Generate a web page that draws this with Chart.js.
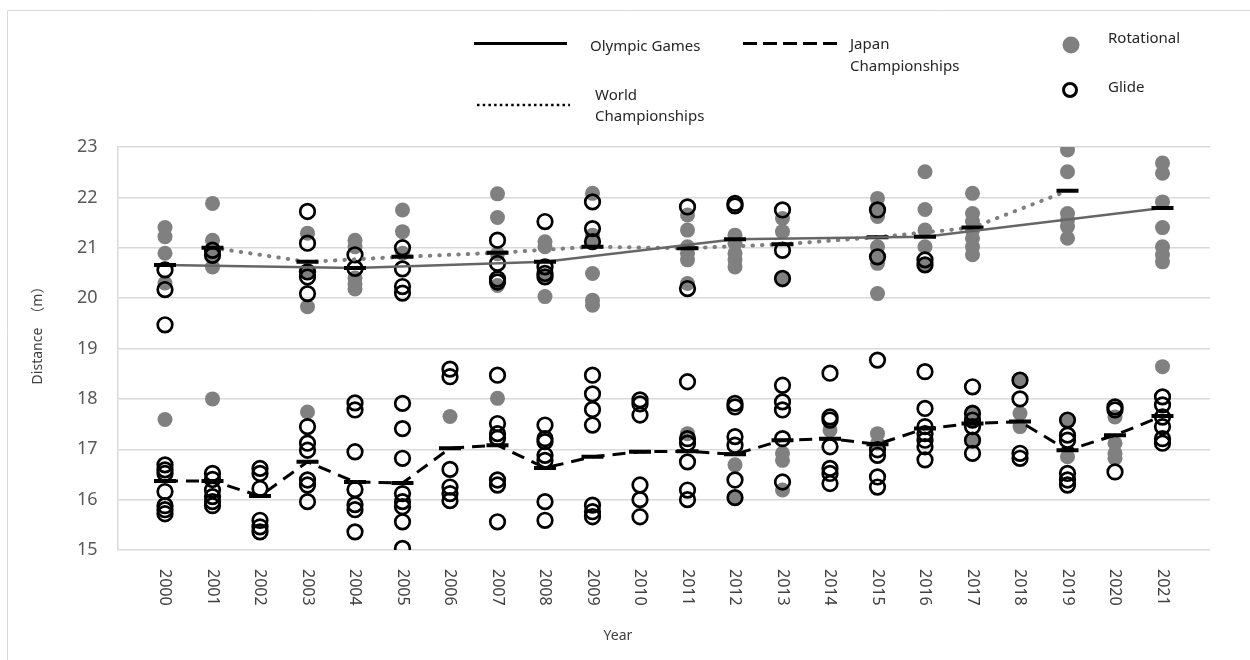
<!DOCTYPE html>
<html>
<head>
<meta charset="utf-8">
<script src="https://cdn.jsdelivr.net/npm/chart.js@4.4.1/dist/chart.umd.min.js"></script>
<style>
  html, body { margin: 0; padding: 0; background: #fff; }
  #wrap { width: 1250px; height: 660px; }
</style>
</head>
<body>
<div id="wrap"><canvas id="distChart" width="1250" height="660"></canvas></div>
<script>
// years on the x axis
const years = [2000, 2001, 2002, 2003, 2004, 2005, 2006, 2007, 2008, 2009, 2010,
               2011, 2012, 2013, 2014, 2015, 2016, 2017, 2018, 2019, 2020, 2021];
const yTicks = [15, 16, 17, 18, 19, 20, 21, 22, 23];

// event averages (dash markers + connecting lines)
const olympicYears = [2000, 2004, 2008, 2012, 2016, 2021];
const olympicAvg   = [20.66, 20.60, 20.72, 21.17, 21.22, 21.79];
const worldYears = [2001, 2003, 2005, 2007, 2009, 2011, 2013, 2015, 2017, 2019];
const worldAvg   = [21.00, 20.72, 20.82, 20.90, 21.02, 20.99, 21.07, 21.21, 21.40, 22.13];
const japanAvg = [16.37, 16.37, 16.07, 16.75, 16.35, 16.33, 17.02, 17.08, 16.63, 16.85, 16.95,
                  16.96, 16.90, 17.18, 17.21, 17.10, 17.41, 17.51, 17.55, 16.98, 17.28, 17.66];

// individual throws, one list per year (same order as years)
const rotational = [
  [21.40, 21.22, 20.89, 20.30, 17.59],
  [21.88, 21.15, 20.86, 20.62, 18.00],
  [],
  [21.29, 20.52, 19.83, 17.74],
  [21.15, 21.02, 20.40, 20.28, 20.18],
  [21.75, 21.32, 20.89],
  [17.65],
  [22.07, 21.60, 20.88, 20.25, 18.01],
  [21.12, 21.02, 20.42, 20.03],
  [22.08, 21.25, 21.15, 20.49, 19.96, 19.86],
  [],
  [21.65, 21.35, 21.02, 20.89, 20.76, 20.29, 17.31],
  [21.25, 21.09, 20.89, 20.76, 20.62, 16.69, 16.04],
  [21.58, 21.32, 20.36, 16.92, 16.78, 16.19],
  [17.38],
  [21.98, 21.81, 21.62, 21.02, 20.82, 20.69, 20.09, 17.31, 17.12],
  [22.51, 21.76, 21.35, 21.02, 20.66],
  [22.08, 21.68, 21.52, 21.35, 21.19, 21.02, 20.86, 17.74, 17.58, 17.18],
  [18.34, 17.71, 17.45],
  [22.94, 22.51, 21.68, 21.55, 21.42, 21.19, 17.58, 16.85],
  [17.64, 17.12, 16.92, 16.82],
  [22.68, 22.48, 21.91, 21.40, 21.02, 20.86, 20.72, 18.64]
];
const glide = [
  [20.56, 20.17, 19.47, 16.69, 16.59, 16.52, 16.16, 15.88, 15.80, 15.72],
  [20.95, 20.85, 16.52, 16.40, 16.19, 16.06, 15.96, 15.88],
  [16.62, 16.52, 16.22, 15.59, 15.46, 15.36],
  [21.72, 21.09, 20.52, 20.42, 20.09, 17.45, 17.12, 16.98, 16.39, 16.29, 15.96],
  [20.86, 20.59, 17.92, 17.78, 16.95, 16.20, 15.90, 15.80, 15.36],
  [21.00, 20.58, 20.23, 20.10, 17.91, 17.41, 16.82, 16.12, 15.96, 15.86, 15.56, 15.03],
  [18.59, 18.44, 16.60, 16.25, 16.12, 15.98],
  [21.15, 20.69, 20.38, 20.32, 18.47, 17.51, 17.31, 17.22, 16.39, 16.29, 15.56],
  [21.52, 20.62, 20.49, 20.42, 17.48, 17.21, 17.15, 16.88, 16.78, 15.96, 15.59],
  [21.91, 21.38, 21.12, 18.47, 18.10, 17.79, 17.48, 15.89, 15.76, 15.66],
  [17.98, 17.90, 17.68, 16.29, 16.00, 15.66],
  [21.81, 20.19, 18.34, 17.21, 17.12, 16.75, 16.19, 16.00],
  [21.88, 21.83, 17.91, 17.84, 17.25, 17.08, 16.39, 16.04],
  [21.75, 20.95, 20.39, 18.27, 17.94, 17.78, 17.21, 16.35],
  [18.51, 17.64, 17.58, 17.05, 16.62, 16.52, 16.32],
  [21.75, 20.82, 18.77, 16.99, 16.88, 16.45, 16.25],
  [20.76, 20.66, 18.54, 17.81, 17.45, 17.31, 17.18, 17.05, 16.79],
  [18.24, 17.71, 17.58, 17.45, 17.18, 16.92],
  [18.37, 18.00, 16.92, 16.82],
  [17.58, 17.28, 17.18, 16.52, 16.39, 16.29],
  [17.84, 17.78, 16.55],
  [18.04, 17.88, 17.64, 17.45, 17.21, 17.12]
];

const FONT = '"Noto Sans", "Noto Sans CJK JP", sans-serif';

function toPoints(xs, ys) {
  return xs.map((x, i) => ({ x: x, y: ys[i] }));
}
function throwPoints(lists) {
  const pts = [];
  lists.forEach((vals, i) => vals.forEach(v => pts.push({ x: years[i], y: v })));
  return pts;
}

// legend, rotated year labels, axis titles and the outer frame
const extras = {
  id: 'extras',
  afterDraw(chart) {
    const c = chart.ctx;
    const xs = chart.scales.x;
    c.save();

    c.strokeStyle = '#d9d9d9';
    c.lineWidth = 1;
    c.beginPath();
    c.moveTo(7.5, 660); c.lineTo(7.5, 10.5); c.lineTo(1250, 10.5);
    c.stroke();

    // year labels, reading top to bottom
    c.fillStyle = '#404040';
    c.font = '16px ' + FONT;
    c.textAlign = 'left';
    c.textBaseline = 'middle';
    years.forEach(y => {
      c.save();
      c.translate(xs.getPixelForValue(y), 569);
      c.rotate(Math.PI / 2);
      c.fillText(String(y), 0, 0);
      c.restore();
    });

    c.font = '14px ' + FONT;
    c.textAlign = 'center';
    c.fillText('Year', 618, 636);
    c.save();
    c.translate(38, 332);
    c.rotate(-Math.PI / 2);
    c.fillText('Distance\u3000（m）', 0, 0);
    c.restore();

    // legend
    c.fillStyle = '#262626';
    c.font = '15px ' + FONT;
    c.textAlign = 'left';
    c.fillText('Olympic Games', 590, 47);
    c.fillText('Japan', 850, 45);
    c.fillText('Championships', 850, 67);
    c.fillText('World', 595, 96);
    c.fillText('Championships', 595, 117);
    c.fillText('Rotational', 1108, 39);
    c.fillText('Glide', 1108, 88);

    c.strokeStyle = '#000';
    c.lineWidth = 3;
    c.beginPath(); c.moveTo(474, 43.5); c.lineTo(567, 43.5); c.stroke();
    c.setLineDash([14, 6]);
    c.beginPath(); c.moveTo(743, 43.5); c.lineTo(837, 43.5); c.stroke();
    c.setLineDash([2.5, 3.2]);
    c.lineWidth = 2.5;
    c.beginPath(); c.moveTo(477, 105); c.lineTo(570, 105); c.stroke();
    c.setLineDash([]);

    c.fillStyle = '#808080';
    c.beginPath(); c.arc(1071, 45, 8.5, 0, Math.PI * 2); c.fill();
    c.lineWidth = 3;
    c.strokeStyle = '#000';
    c.beginPath(); c.arc(1070, 90, 6.5, 0, Math.PI * 2); c.stroke();

    c.restore();
  }
};

const dashMarker = {
  pointStyle: 'line',
  pointRadius: 11,
  pointBorderWidth: 4,
  pointBorderColor: '#000',
  pointBackgroundColor: '#000'
};

const ctx = document.getElementById('distChart').getContext('2d');
const distChart = new Chart(ctx, {
  type: 'scatter',
  data: {
    datasets: [
      Object.assign({
        label: 'Japan Championships',
        data: toPoints(years, japanAvg),
        showLine: true,
        borderColor: '#000',
        borderWidth: 3,
        borderDash: [13, 8]
      }, dashMarker),
      Object.assign({
        label: 'Olympic Games',
        data: toPoints(olympicYears, olympicAvg),
        showLine: true,
        borderColor: '#666666',
        borderWidth: 2.5
      }, dashMarker),
      Object.assign({
        label: 'World Championships',
        data: toPoints(worldYears, worldAvg),
        showLine: true,
        borderColor: '#7f7f7f',
        borderWidth: 4,
        borderCapStyle: 'round',
        borderDash: [0.5, 9]
      }, dashMarker),
      {
        label: 'Glide',
        data: throwPoints(glide),
        pointStyle: 'circle',
        pointRadius: 7.3,
        pointBorderWidth: 2.7,
        pointBorderColor: '#000',
        pointBackgroundColor: 'rgba(0,0,0,0)'
      },
      {
        label: 'Rotational',
        data: throwPoints(rotational),
        pointStyle: 'circle',
        pointRadius: 7.5,
        pointBorderWidth: 0,
        pointBackgroundColor: '#808080'
      }
    ]
  },
  options: {
    responsive: false,
    animation: false,
    events: [],
    layout: { padding: { top: 147, right: 40, bottom: 0, left: 0 } },
    scales: {
      x: {
        type: 'linear',
        min: 1999,
        max: 2022,
        grid: { display: false },
        border: { display: false },
        ticks: { display: false, stepSize: 1 },
        afterFit(s) { s.height = 110; }
      },
      y: {
        min: 15,
        max: 23,
        afterBuildTicks(s) { s.ticks = yTicks.map(v => ({ value: v })); },
        grid: { color: '#d9d9d9', lineWidth: 1.5, drawTicks: false },
        border: { color: '#d9d9d9', width: 1.5 },
        ticks: { color: '#595959', font: { size: 18, family: FONT }, padding: 20 },
        afterFit(s) { s.width = 117.5; }
      }
    },
    plugins: {
      legend: { display: false },
      tooltip: { enabled: false }
    }
  },
  plugins: [extras]
});
</script>
</body>
</html>
